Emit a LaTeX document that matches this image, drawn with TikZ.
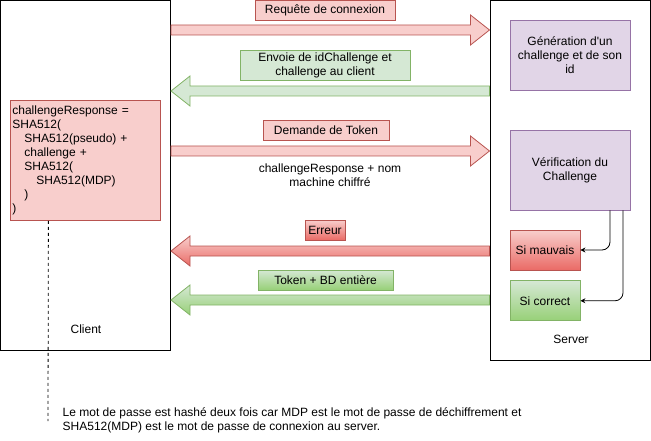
\documentclass[tikz,border=0pt]{standalone}
\usepackage{fontspec}
\setmainfont[Ligatures=TeXOff]{Liberation Sans}
\usetikzlibrary{arrows.meta,positioning,calc}
\definecolor{redfill}{HTML}{F8CECC}
\definecolor{redline}{HTML}{B85450}
\definecolor{redgrad}{HTML}{EA6B66}
\definecolor{greenfill}{HTML}{D5E8D4}
\definecolor{greenline}{HTML}{82B366}
\definecolor{greengrad}{HTML}{97D077}
\definecolor{purplefill}{HTML}{E1D5E7}
\definecolor{purpleline}{HTML}{9673A6}

% fat arrow between two points on one level: style, from, to
\newcommand{\fatarrow}[3]{%
  \path[#1] let \p1=#2, \p2=#3, \n1={sign(\x2-\x1)} in
    (\x1,\y1+5pt) -- (\x2-\n1*19pt,\y1+5pt) -- (\x2-\n1*19pt,\y1+15pt)
    -- (\x2,\y1) -- (\x2-\n1*19pt,\y1-15pt) -- (\x2-\n1*19pt,\y1-5pt)
    -- (\x1,\y1-5pt) -- cycle;}

\begin{document}
\begin{tikzpicture}[x=1pt,y=-1pt,line width=0.8pt,font=\fontsize{12}{14}\selectfont,
    container/.style={rectangle,draw=black,line width=1pt,inner sep=0pt},
    box/.style={rectangle,draw,align=center,inner sep=2pt},
    redbox/.style={box,draw=redline,fill=redfill},
    redgbox/.style={box,draw=redline,top color=redfill,bottom color=redgrad},
    greenbox/.style={box,draw=greenline,fill=greenfill},
    greengbox/.style={box,draw=greenline,top color=greenfill,bottom color=greengrad},
    purplebox/.style={box,draw=purpleline,fill=purplefill},
    redarrow/.style={draw=redline,fill=redfill},
    redgarrow/.style={draw=redline,top color=redfill,bottom color=redgrad},
    greenarrow/.style={draw=greenline,fill=greenfill},
    greengarrow/.style={draw=greenline,top color=greenfill,bottom color=greengrad},
    flow/.style={-{Stealth[length=5pt,width=5pt]},rounded corners=8pt},
    dashline/.style={dash pattern=on 3pt off 3pt}]

    \useasboundingbox (0,0) rectangle (651,441);

    % Client and server
    \node[container,minimum width=170pt,minimum height=350pt] (client) at (85.5,175.5) {};
    \node[container,minimum width=160pt,minimum height=359pt] (server) at (570,180.5) {};
    \node (clientlbl) at (86,329) {Client};
    \node (serverlbl) at (571,339) {Server};

    % Messages
    \fatarrow{redarrow}{(client.east |- 0,30)}{(server.west |- 0,30)}
    \fatarrow{greenarrow}{(server.west |- 0,91)}{(client.east |- 0,91)}
    \fatarrow{redarrow}{(client.east |- 0,151)}{(server.west |- 0,151)}
    \fatarrow{redgarrow}{(server.west |- 0,251)}{(client.east |- 0,251)}
    \fatarrow{greengarrow}{(server.west |- 0,300)}{(client.east |- 0,300)}

    \node[redbox,minimum width=140pt,minimum height=20pt] (lreq) at (325,10) {Requête de connexion};
    \node[greenbox,minimum width=170pt,minimum height=30pt] (lchal) at (325,65) {Envoie de idChallenge et\\challenge au client};
    \node[redbox,minimum width=126pt,minimum height=20pt] (ltok) at (326,130) {Demande de Token};
    \node[align=center] (lresp) at (330,175) {challengeResponse + nom\\machine chiffré};
    \node[redgbox,minimum width=40pt,minimum height=20pt] (lerr) at (325,230) {Erreur};
    \node[greengbox,minimum width=135pt,minimum height=20pt] (lbd) at (325.5,280) {Token + BD entière};

    % Client side
    \node[redbox,text width=146pt,minimum height=120pt,align=left,anchor=north west] (resp) at (10,100)
      {challengeResponse =\\SHA512(\\\hspace*{12pt}SHA512(pseudo) +\\\hspace*{12pt}challenge +\\\hspace*{12pt}SHA512(\\\hspace*{24pt}SHA512(MDP)\\\hspace*{12pt})\\)};

    % Server side
    \node[purplebox,minimum width=120pt,minimum height=70pt] (gen) at (570,55) {Génération d'un\\challenge et de son\\id};
    \node[purplebox,minimum width=120pt,minimum height=80pt] (verif) at (570,170) {Vérification du\\Challenge};
    \node[redgbox,minimum width=70pt,minimum height=40pt] (bad) at (545,250) {Si mauvais};
    \node[greengbox,minimum width=70pt,minimum height=40pt,below=10pt of bad] (good) {Si correct};

    \draw[flow] ([xshift=40pt]verif.south) |- (bad.east);
    \draw[flow] ([xshift=53pt]verif.south) |- (good.east);

    % Note
    \node[align=left,anchor=west] (note) at (59,420)
      {Le mot de passe est hashé deux fois car MDP est le mot de passe de déchiffrement et\\SHA512(MDP) est le mot de passe de connexion au server.};
    \coordinate (noteend) at (48,421);
    \draw[dashline] ([xshift=-37pt]resp.south) -- (noteend);
\end{tikzpicture}
\end{document}
